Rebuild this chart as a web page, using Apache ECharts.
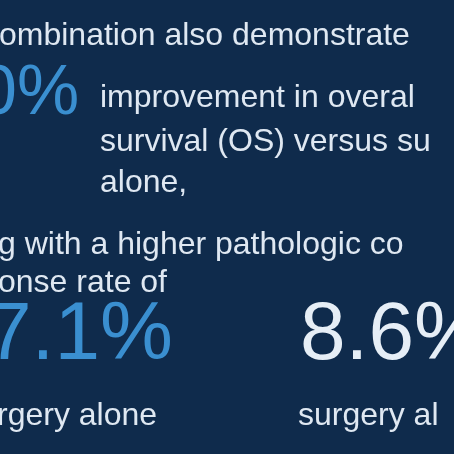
<!DOCTYPE html>
<html><head><meta charset="utf-8">
<script src="https://cdn.jsdelivr.net/npm/echarts@6/dist/echarts.min.js"></script>
<style>html,body{margin:0;padding:0;background:#0f2b4c}#c{width:454px;height:454px}</style>
</head><body><div id="c"></div>
<script>
'use strict';

// visible (cropped) text of the infographic
const bodyLines = [
    ['ombination also demonstrate', -1, 36],
    ['improvement in overal', 100, 98],
    ['survival (OS) versus su', 100, 142],
    ['alone,', 100, 183],
    ['g with a higher pathologic co', -2, 245],
    ['onse rate of', -2, 283],
    ['rgery alone', -3, 416],
    ['surgery al', 298, 416]
];
const bigValues = ['0%', '7.1%', '8.6%'];
const bigPos = [[-22, 95, '#3a8fd0', 70], [-14, 336, '#3a8fd0', 82], [300, 336, '#e6eef6', 82]];

const chart = echarts.init(document.getElementById('c'));
const graphic = [];
bodyLines.forEach(([t, x, y]) => {
    graphic.push({
        type: 'text', x: x, y: y,
        style: { text: t, fill: '#dfe8f2', font: '400 32px "Liberation Sans", Arial, sans-serif', verticalAlign: 'middle' }
    });
});
bigValues.forEach((v, i) => {
    const [x, y, col, size] = bigPos[i];
    graphic.push({
        type: 'text', x: x, y: y,
        style: { text: v, fill: col, font: '500 ' + size + 'px "Liberation Sans", Arial, sans-serif', verticalAlign: 'middle' }
    });
});
chart.setOption({ backgroundColor: '#0f2b4c', graphic: graphic });
</script></body></html>
